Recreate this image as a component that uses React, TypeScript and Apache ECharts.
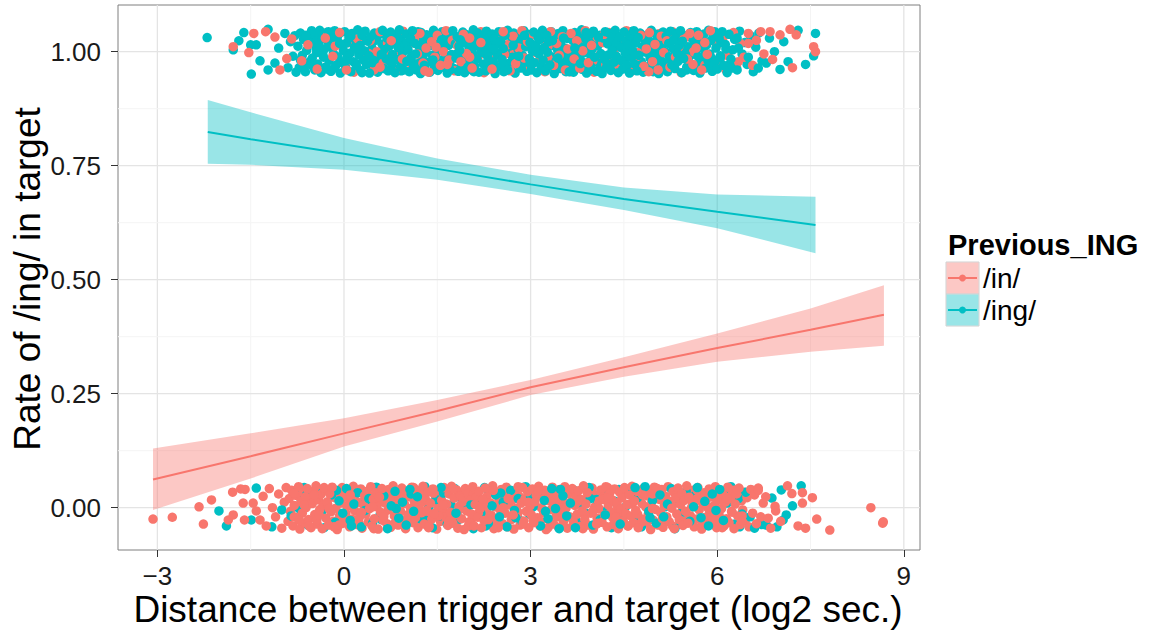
import React, { useEffect, useRef } from "react";
import * as echarts from "echarts";

const RED = "#F8766D";
const TEAL = "#00BFC4";
const RED_FILL = "rgba(248,118,109,0.4)";
const TEAL_FILL = "rgba(0,191,196,0.4)";
const FONT = "'Liberation Sans', Arial, Helvetica, sans-serif";

// panel limits (data units)
const X_MIN = -3.633;
const X_MAX = 9.26;
const Y_MIN = -0.0928;
const Y_MAX = 1.1024;

// breaks
const xTicks = [-3, 0, 3, 6, 9];
const xMinorBreaks = [-1.5, 1.5, 4.5, 7.5];
const yTicks = [0, 0.25, 0.5, 0.75, 1];
const yMinorBreaks = [0.125, 0.375, 0.625, 0.875];

const groupNames = ["/in/", "/ing/"];

// smoothed fit with confidence band, Previous_ING = /in/
const inFitX = [-3.07, -1.5, 0, 1.5, 3, 4.5, 6, 7.5, 8.68];
const inFit = [0.062, 0.113, 0.163, 0.212, 0.264, 0.308, 0.35, 0.39, 0.423];
const inLower = [-0.005, 0.064, 0.134, 0.189, 0.247, 0.287, 0.32, 0.342, 0.355];
const inUpper = [0.13, 0.163, 0.196, 0.236, 0.28, 0.33, 0.382, 0.437, 0.488];

// smoothed fit with confidence band, Previous_ING = /ing/
const ingFitX = [-2.19, -1.5, 0, 1.5, 3, 4.5, 6, 7.58];
const ingFit = [0.824, 0.808, 0.776, 0.743, 0.709, 0.677, 0.649, 0.62];
const ingLower = [0.754, 0.752, 0.741, 0.719, 0.688, 0.653, 0.613, 0.558];
const ingUpper = [0.894, 0.867, 0.811, 0.766, 0.73, 0.702, 0.687, 0.682];

// jittered observations as flat pairs: distance (log2 sec.), vertical jitter in thousandths
const ingAtOne = [
  -2.2,31, -1.78,4, -1.69,24, -1.61,42, -1.5,15, -1.49,-49, -1.41,15, -1.35,-20, -1.22,-40, -1.22,49, -1.11,-25, -1.05,8, -0.95,40, -0.9,-35, -0.86,22, -0.82,-10, -0.79,35, -0.77,-45,
  -0.74,12, -0.72,-35, -0.7,41, -0.67,-8, -0.65,27, -0.62,-44, -0.6,3, -0.57,35, -0.55,-22, -0.52,46, -0.51,-14,
  -0.49,20, -0.47,-40, -0.46,38, -0.44,-2, -0.42,-27, -0.4,14, -0.39,47, -0.37,-46, -0.35,29, -0.33,-12, -0.31,6, -0.29,-33, -0.28,42, -0.26,22,
  -0.24,-19, -0.22,35, -0.21,-43, -0.19,9, -0.17,-4, -0.15,46, -0.13,-30, -0.12,25, -0.1,-11, -0.08,39, -0.06,-47, -0.05,16, -0.03,-24, -0.01,3,
  0.01,44, 0.03,-36, 0.04,19, 0.06,-15, 0.08,31, 0.1,-3, 0.11,-44, 0.13,40, 0.15,-22, 0.17,10, 0.18,27, 0.2,-31, 0.22,48, 0.24,-7,
  0.26,14, 0.27,-41, 0.29,36, 0.31,-18, 0.33,2, 0.34,45, 0.36,-28, 0.38,23, 0.4,-9, 0.41,-47, 0.43,33, 0.45,8, 0.47,-35, 0.49,41,
  0.5,-13, 0.52,26, 0.54,-45, 0.55,-1, 0.57,38, 0.59,-24, 0.61,17, 0.62,47, 0.64,-37, 0.66,5, 0.68,-16, 0.69,30, 0.71,-42, 0.73,12,
  0.75,43, 0.77,-29, 0.78,-6, 0.8,21, 0.82,-46, 0.84,36, 0.85,-17, 0.87,9, 0.89,48, 0.91,-33, 0.92,25, 0.94,-3, 0.96,-40, 0.98,15,
  1.0,39, 1.01,-21, 1.03,4, 1.05,-44, 1.07,29, 1.08,-12, 1.1,46, 1.12,-32, 1.14,18, 1.15,-5, 1.17,35, 1.19,-26, 1.21,11, 1.23,-48,
  1.24,42, 1.26,-15, 1.28,24, 1.3,-38, 1.31,1, 1.33,37, 1.35,-23, 1.37,13, 1.38,-45, 1.4,31, 1.42,-8, 1.44,47, 1.45,-30, 1.47,20,
  1.49,-2, 1.51,-41, 1.52,34, 1.54,-19, 1.56,8, 1.58,44, 1.59,-34, 1.61,22, 1.63,-10, 1.65,40, 1.66,-47, 1.68,14, 1.7,-25, 1.72,28,
  1.73,-6, 1.75,46, 1.77,-37, 1.79,17, 1.8,-14, 1.82,33, 1.84,-43, 1.86,3, 1.87,26, 1.89,-28, 1.91,43, 1.93,-9, 1.94,-46, 1.96,19,
  1.98,37, 2.0,-20, 2.01,6, 2.03,-39, 2.05,30, 2.07,-4, 2.08,48, 2.1,-31, 2.12,13, 2.14,-16, 2.15,41, 2.17,-45, 2.19,24, 2.21,-1,
  2.22,35, 2.24,-27, 2.26,10, 2.28,-42, 2.29,45, 2.31,-11, 2.33,21, 2.35,-35, 2.36,2, 2.38,39, 2.4,-22, 2.42,28, 2.43,-48, 2.45,16,
  2.47,-7, 2.49,44, 2.5,-33, 2.52,23, 2.54,-17, 2.56,7, 2.57,-44, 2.59,36, 2.61,-3, 2.63,47, 2.64,-26, 2.66,12, 2.68,-38, 2.7,30,
  2.71,-12, 2.73,41, 2.75,-47, 2.77,18, 2.78,-21, 2.8,4, 2.82,33, 2.84,-36, 2.85,26, 2.87,-8, 2.89,46, 2.91,-30, 2.92,11, 2.94,-43,
  2.96,38, 2.98,-15, 2.99,20, 3.01,-40, 3.03,1, 3.05,43, 3.06,-24, 3.08,15, 3.1,-46, 3.12,32, 3.13,-5, 3.15,27, 3.17,-34, 3.19,47,
  3.2,-18, 3.22,9, 3.24,-42, 3.26,36, 3.27,-1, 3.29,22, 3.31,-29, 3.33,44, 3.34,-11, 3.36,14, 3.38,-48, 3.4,31, 3.41,-20, 3.43,5,
  3.45,40, 3.47,-37, 3.48,19, 3.5,-9, 3.52,46, 3.54,-25, 3.55,8, 3.57,-44, 3.59,29, 3.61,-14, 3.62,37, 3.64,-32, 3.66,2, 3.68,24,
  3.69,-45, 3.71,42, 3.73,-6, 3.75,16, 3.76,-28, 3.78,34, 3.8,-17, 3.82,48, 3.83,-39, 3.85,10, 3.87,-2, 3.89,27, 3.9,-47, 3.92,21,
  3.94,-21, 3.96,39, 3.97,-33, 3.99,6, 4.01,45, 4.03,-12, 4.04,25, 4.06,-43, 4.08,13, 4.1,-26, 4.11,36, 4.13,-4, 4.15,-48, 4.17,30,
  4.18,-16, 4.2,44, 4.22,-35, 4.24,17, 4.25,-7, 4.27,40, 4.29,-41, 4.31,3, 4.32,28, 4.34,-23, 4.36,47, 4.38,-10, 4.39,20, 4.41,-46,
  4.43,33, 4.45,-19, 4.46,9, 4.48,-38, 4.5,43, 4.52,-3, 4.53,24, 4.55,-30, 4.57,14, 4.59,-47, 4.6,37, 4.62,-13, 4.64,2, 4.66,46,
  4.67,-27, 4.69,19, 4.71,-42, 4.73,31, 4.74,-8, 4.76,41, 4.78,-22, 4.8,11, 4.81,-45, 4.83,27, 4.85,-1, 4.87,36, 4.88,-33, 4.9,15,
  4.92,-14, 4.94,47, 4.95,-39, 4.97,5, 4.99,22, 5.01,-25, 5.02,38, 5.04,-6, 5.06,-48, 5.08,29, 5.09,-18, 5.11,12, 5.13,43, 5.15,-32,
  5.16,0, 5.18,34, 5.2,-44, 5.22,18, 5.23,-11, 5.25,45, 5.27,-29, 5.29,7, 5.3,26, 5.32,-37, 5.34,40, 5.36,-4, 5.37,-21, 5.39,14,
  5.41,46, 5.43,-46, 5.44,23, 5.46,-15, 5.48,3, 5.5,35, 5.51,-34, 5.53,11, 5.55,-24, 5.57,42, 5.58,-7, 5.6,28, 5.62,-41, 5.64,17,
  5.65,-2, 5.67,44, 5.69,-28, 5.71,20, 5.72,-47, 5.74,32, 5.76,-12, 5.78,6, 5.79,39, 5.81,-36, 5.83,15, 5.85,-19, 5.86,47, 5.88,-5,
  5.9,25, 5.92,-43, 5.94,36, 5.96,-23, 5.98,8, 6.0,-38, 6.03,30, 6.05,-9, 6.08,44, 6.1,-30, 6.13,16, 6.16,-46, 6.19,38, 6.22,-16, 6.25,4, 6.28,27,
  6.32,-40, 6.36,45, 6.4,-5, 6.44,20, 6.48,-28, 6.53,35, 6.58,-44, 6.62,10, 6.67,41, 6.72,-20, 6.79,-25, 6.84,30, 6.92,0, 7.01,-39, 7.07,22, 7.14,-22, 7.3,47, 7.42,-28, 7.55,-9, 7.58,40,
  -0.63,-30, -0.45,8, -0.27,-38, -0.11,30, 0.05,-10, 0.19,-26, 0.32,25, 0.46,-24, 0.6,-6, 0.74,-22, 0.88,30, 1.02,20, 1.16,-40, 1.29,-30, 1.43,-18, 1.57,26, 1.71,-40, 1.85,12, 1.99,-34, 2.13,28,
  2.27,-4, 2.41,6, 2.55,-28, 2.69,20, 2.83,-16, 2.97,-32, 3.11,8, 3.25,26, 3.39,-36, 3.53,-2, 3.67,-22, 3.81,4, 3.95,-40, 4.09,32, 4.23,-26, 4.37,12, 4.51,-18, 4.65,28, 4.79,-36, 4.93,-4,
  5.07,20, 5.21,-24, 5.35,30, 5.49,-6, 5.63,-34, 5.77,24, 5.91,-14, 6.06,20, 6.2,-28, 6.34,8, 6.5,-12, 6.66,-36,
  -0.7,-18, -0.61,36, -0.52,-30, -0.43,24, -0.34,-6, -0.25,44, -0.16,-36, -0.07,18, 0.02,-20, 0.11,34, 0.2,6, 0.29,-46, 0.38,-2, 0.47,22, 0.56,-32, 0.65,40, 0.74,-12, 0.83,28, 0.92,-42, 1.01,8,
  1.1,-24, 1.19,44, 1.28,-6, 1.37,30, 1.46,-38, 1.55,16, 1.64,-20, 1.73,38, 1.82,-4, 1.91,-30, 2.0,22, 2.09,-44, 2.18,10, 2.27,34, 2.36,-24, 2.45,-2, 2.54,42, 2.63,-40, 2.72,14, 2.81,-10,
  2.9,36, 2.99,-26, 3.08,2, 3.17,40, 3.26,-36, 3.35,24, 3.44,-14, 3.53,30, 3.62,-44, 3.71,8, 3.8,-26, 3.89,42, 3.98,-8, 4.07,20, 4.16,-38, 4.25,32, 4.34,-2, 4.43,-28, 4.52,16, 4.61,44,
  4.7,-34, 4.79,4, 4.88,28, 4.97,-44, 5.06,14, 5.15,36, 5.24,-20, 5.33,-2, 5.42,26, 5.51,-40, 5.6,40, 5.69,-10, 5.78,22, 5.87,-30, 5.96,44, 6.05,-14, 6.14,6, 6.23,-36, 6.32,30
];

const inAtOne = [
  -1.78,11, -1.53,-2, -1.45,40, -1.26,44, -1.11,32, -1.03,-40, -0.92,-15, -0.84,28,
  -0.68,-20, -0.58,15, -0.43,-38, -0.3,30, -0.18,-10, -0.07,42, 0.02,-28, 0.09,20, 0.16,-45, 0.21,5, 0.28,35, 0.35,-15, 0.42,24, 0.48,-40, 0.53,0, 0.58,44, 0.63,-25, 0.7,19, 0.76,-8, 0.81,32, 0.86,-38, 0.9,2, 0.95,45, 0.99,-20,
  1.04,15, 1.09,-35, 1.13,28, 1.18,-5, 1.22,40, 1.27,-25, 1.32,8, 1.36,-45, 1.41,22, 1.46,-12, 1.5,36, 1.55,-30, 1.6,0, 1.64,46, 1.69,-18, 1.74,25, 1.78,-42, 1.83,12, 1.88,-22, 1.92,38, 1.97,-4,
  2.02,30, 2.06,-36, 2.11,18, 2.16,-10, 2.2,44, 2.25,-46, 2.3,5, 2.34,32, 2.39,-18, 2.44,24, 2.48,-30, 2.53,40, 2.58,-6, 2.62,15, 2.67,-42, 2.72,34, 2.76,-26, 2.81,8, 2.86,46, 2.9,-14, 2.95,22,
  3.0,-34, 3.04,38, 3.09,-2, 3.14,-20, 3.18,28, 3.23,-44, 3.28,12, 3.32,44, 3.37,-30, 3.42,18, 3.46,-8, 3.51,33, 3.56,-40, 3.6,6, 3.65,40, 3.7,-16, 3.74,24, 3.79,-36, 3.84,2, 3.88,46, 3.93,-24,
  3.98,14, 4.02,-45, 4.07,32, 4.12,-6, 4.16,20, 4.21,-28, 4.26,42, 4.3,-14, 4.35,8, 4.4,-38, 4.44,30, 4.49,-20, 4.54,46, 4.58,0, 4.63,-42, 4.68,22, 4.72,-10, 4.77,36, 4.82,-32, 4.86,6, 4.91,42,
  4.96,-22, 5.0,16, 5.05,-40, 5.1,34, 5.14,-2, 5.19,24, 5.24,-34, 5.28,44, 5.33,-12, 5.38,10, 5.42,-46, 5.47,30, 5.52,-16, 5.56,40, 5.61,-28, 5.66,8, 5.7,36, 5.75,-40, 5.8,20, 5.84,-6, 5.89,46,
  5.94,-30, 5.99,14, 6.04,-20, 6.09,30, 6.14,-40, 6.2,2, 6.26,42, 6.31,-34, 6.37,18, 6.43,-12, 6.5,40, 6.57,-30, 6.63,25, 6.7,44, 6.75,-5, 6.85,44, 6.89,-17, 7.01,37, 7.17,49, 7.21,-35, 7.27,37, 7.55,11, 7.58,0,
  -0.5,-30, -0.32,40, -0.14,12, 0.04,-40, 0.22,28, 0.4,-4, 0.58,-34, 0.76,24, 0.94,-16, 1.12,42, 1.3,-42, 1.48,10, 1.66,-28, 1.84,30, 2.02,-12, 2.2,20, 2.38,-38, 2.56,44, 2.74,-2, 2.92,-24,
  3.1,34, 3.28,-14, 3.46,4, 3.64,-44, 3.82,28, 4.0,-20, 4.18,38, 4.36,-32, 4.54,12, 4.72,-2, 4.9,-44, 5.08,40, 5.26,-16, 5.44,24, 5.62,0, 5.8,-30, 5.98,34, 6.16,-8, 6.34,-22, 6.5,18
];

const inAtZero = [
  -3.07,-25, -2.76,-21, -2.33,2, -2.26,-36, -2.13,17, -1.86,-27, -1.79,34, -1.78,-16, -1.66,41, -1.62,10, -1.6,-27, -1.59,40, -1.46,10, -1.41,-7, -1.35,-27, -1.3,25, -1.25,-40, -1.2,42, -1.15,0, -1.1,-20, -1.05,30, -1.0,-45, -0.96,12, -0.93,44, -0.9,-30,
  -0.88,20, -0.86,-8, -0.84,38, -0.82,-40, -0.8,5, -0.77,27, -0.75,-22, -0.73,46, -0.71,-47, -0.69,14, -0.67,-12, -0.65,33, -0.63,-33, -0.61,0,
  -0.59,42, -0.57,-26, -0.55,21, -0.53,-44, -0.51,9, -0.49,36, -0.47,-15, -0.45,48, -0.43,-36, -0.41,17, -0.39,-4, -0.37,29, -0.35,-46, -0.33,6,
  -0.31,40, -0.29,-23, -0.27,13, -0.25,-38, -0.23,31, -0.21,-9, -0.19,45, -0.17,-30, -0.15,22, -0.13,-1, -0.11,-48, -0.09,35, -0.07,-17, -0.05,10,
  -0.03,44, -0.01,-34, 0.01,25, 0.03,-12, 0.05,3, 0.07,39, 0.09,-42, 0.11,18, 0.13,-25, 0.15,47, 0.17,-6, 0.19,30, 0.21,-37, 0.23,12,
  0.25,-20, 0.27,41, 0.29,-45, 0.31,7, 0.33,26, 0.35,-14, 0.37,36, 0.39,-31, 0.41,-2, 0.43,46, 0.45,-40, 0.47,19, 0.49,-24, 0.51,33,
  0.53,2, 0.55,-47, 0.57,23, 0.59,-10, 0.61,42, 0.63,-28, 0.65,11, 0.67,37, 0.69,-35, 0.71,-5, 0.73,27, 0.75,-43, 0.77,15, 0.79,48,
  0.81,-18, 0.83,5, 0.85,32, 0.87,-38, 0.89,20, 0.91,-8, 0.93,43, 0.95,-27, 0.97,9, 0.99,-46, 1.01,35, 1.03,-15, 1.05,24, 1.07,-1,
  1.09,45, 1.11,-33, 1.13,14, 1.15,-22, 1.17,38, 1.19,-44, 1.21,4, 1.23,29, 1.25,-11, 1.27,47, 1.29,-36, 1.31,18, 1.33,-6, 1.35,34,
  1.37,-41, 1.39,10, 1.41,-25, 1.43,41, 1.45,-13, 1.47,25, 1.49,-47, 1.51,1, 1.53,37, 1.55,-30, 1.57,16, 1.59,-3, 1.61,44, 1.63,-20,
  1.65,8, 1.67,-39, 1.69,30, 1.71,-10, 1.73,47, 1.75,-34, 1.77,21, 1.79,-16, 1.81,39, 1.83,-45, 1.85,3, 1.87,26, 1.89,-24, 1.91,13,
  1.93,-48, 1.95,42, 1.97,-7, 1.99,31, 2.01,-31, 2.03,16, 2.05,-14, 2.07,46, 2.09,-40, 2.11,7, 2.13,24, 2.15,-21, 2.17,36, 2.19,-2,
  2.21,-44, 2.23,19, 2.25,-28, 2.27,43, 2.29,-9, 2.31,28, 2.33,-37, 2.35,11, 2.37,-17, 2.39,48, 2.41,-46, 2.43,2, 2.45,33, 2.47,-23,
  2.49,15, 2.51,-5, 2.53,40, 2.55,-35, 2.57,22, 2.59,-12, 2.61,45, 2.63,-42, 2.65,6, 2.67,30, 2.69,-26, 2.71,17, 2.73,-47, 2.75,37,
  2.77,-1, 2.79,-19, 2.81,26, 2.83,-38, 2.85,10, 2.87,44, 2.89,-29, 2.91,20, 2.93,-8, 2.95,35, 2.97,-44, 2.99,4, 3.01,-15, 3.03,41,
  3.05,-33, 3.07,13, 3.09,28, 3.11,-22, 3.13,47, 3.15,-40, 3.17,0, 3.19,23, 3.21,-11, 3.23,38, 3.25,-48, 3.27,16, 3.29,-27, 3.31,32,
  3.33,-4, 3.35,45, 3.37,-36, 3.39,9, 3.41,-18, 3.43,27, 3.45,-43, 3.47,40, 3.49,-9, 3.51,19, 3.53,-30, 3.55,46, 3.57,-1, 3.59,-45,
  3.61,30, 3.63,-20, 3.65,12, 3.67,42, 3.69,-34, 3.71,5, 3.73,24, 3.75,-14, 3.77,37, 3.79,-41, 3.81,18, 3.83,-7, 3.85,48, 3.87,-26,
  3.89,8, 3.91,33, 3.93,-38, 3.95,21, 3.97,-12, 3.99,43, 4.01,-47, 4.03,1, 4.05,28, 4.07,-23, 4.09,14, 4.11,-3, 4.13,39, 4.15,-32,
  4.17,24, 4.19,-16, 4.21,46, 4.23,-42, 4.25,6, 4.27,31, 4.29,-9, 4.31,17, 4.33,-37, 4.35,41, 4.37,-21, 4.39,11, 4.41,-46, 4.43,34,
  4.45,-2, 4.47,22, 4.49,-29, 4.51,44, 4.53,-13, 4.55,7, 4.57,-40, 4.59,28, 4.61,-18, 4.63,47, 4.65,-33, 4.67,15, 4.69,-6, 4.71,36,
  4.73,-44, 4.75,20, 4.77,-24, 4.79,9, 4.81,42, 4.83,-35, 4.85,2, 4.87,26, 4.89,-15, 4.91,38, 4.93,-48, 4.95,13, 4.97,-27, 4.99,45,
  5.01,-4, 5.03,30, 5.05,-38, 5.07,18, 5.09,-11, 5.11,40, 5.13,-43, 5.15,4, 5.17,25, 5.19,-20, 5.21,46, 5.23,-31, 5.25,12, 5.27,-1,
  5.29,35, 5.31,-46, 5.33,21, 5.35,-14, 5.37,43, 5.39,-26, 5.41,7, 5.43,31, 5.45,-39, 5.47,16, 5.49,-8, 5.51,48, 5.53,-34, 5.55,23,
  5.57,-18, 5.59,2, 5.61,38, 5.63,-42, 5.65,14, 5.67,-25, 5.69,44, 5.71,-5, 5.73,27, 5.75,-47, 5.77,10, 5.79,33, 5.81,-21, 5.83,19,
  5.85,-37, 5.87,41, 5.89,-10, 5.91,24, 5.93,-30, 5.95,5, 5.97,46, 5.99,-44, 6.01,16, 6.03,-15, 6.05,36, 6.07,-2, 6.09,29, 6.11,-40,
  6.13,12, 6.15,-24, 6.17,45, 6.19,-33, 6.21,20, 6.23,-8, 6.25,38, 6.27,-46, 6.29,8, 6.31,30, 6.33,-18, 6.35,43, 6.37,-37, 6.39,15,
  6.41,-5, 6.43,34, 6.45,-28, 6.48,22, 6.51,-42, 6.54,40, 6.57,-12, 6.6,28, 6.63,-35, 6.66,43, 6.66,38, 6.7,-20, 6.74,10, 6.78,24, 6.82,-23, 6.86,-45, 6.93,3, 6.94,-7, 7.02,-30, 7.13,48, 7.2,31, 7.3,-40, 7.37,33, 7.37,10, 7.42,-45, 7.53,22, 7.6,-25, 7.81,-49, 8.47,0, 8.66,-34, 8.67,-31,
  -0.8,-20, -0.62,24, -0.44,-28, -0.26,6, -0.08,-38, 0.1,28, 0.28,-10, 0.46,2, 0.64,-20, 0.82,30, 1.0,-28, 1.18,16, 1.36,-20, 1.54,8, 1.72,-28, 1.9,34, 2.08,-22, 2.26,4, 2.44,-34, 2.62,26,
  2.8,-10, 2.98,16, 3.16,-30, 3.34,12, 3.52,-20, 3.7,32, 3.88,-16, 4.06,-36, 4.24,22, 4.42,-12, 4.6,8, 4.78,-32, 4.96,30, 5.14,-24, 5.32,10, 5.5,-28, 5.68,20, 5.86,-2, 6.04,-30, 6.22,26, 6.4,-18,
  -0.8,32, -0.72,-28, -0.64,6, -0.56,-40, -0.48,28, -0.4,-16, -0.32,44, -0.24,-2, -0.16,-42, -0.08,20, 0.0,-24, 0.08,8, 0.16,36, 0.24,-32, 0.32,-8, 0.4,26, 0.48,-46, 0.56,12, 0.64,-14, 0.72,40,
  0.8,-36, 0.88,2, 0.96,28, 1.04,-24, 1.12,44, 1.2,-10, 1.28,14, 1.36,-44, 1.44,32, 1.52,-18, 1.6,6, 1.68,-30, 1.76,42, 1.84,-6, 1.92,22, 2.0,-40, 2.08,30, 2.16,-12, 2.24,10, 2.32,-26,
  2.4,38, 2.48,-44, 2.56,0, 2.64,20, 2.72,-16, 2.8,46, 2.88,-36, 2.96,12, 3.04,-28, 3.12,36, 3.2,-4, 3.28,-44, 3.36,22, 3.44,-20, 3.52,6, 3.6,40, 3.68,-26, 3.76,14, 3.84,-46, 3.92,30,
  4.0,-8, 4.08,-34, 4.16,18, 4.24,44, 4.32,-22, 4.4,2, 4.48,36, 4.56,-40, 4.64,10, 4.72,-14, 4.8,28, 4.88,-30, 4.96,-2, 5.04,42, 5.12,-24, 5.2,16, 5.28,-40, 5.36,32, 5.44,-6, 5.52,-32,
  5.6,12, 5.68,38, 5.76,-36, 5.84,2, 5.92,-20, 6.0,30, 6.08,-44, 6.16,20, 6.24,-10, 6.32,40, 6.4,-30
];

const ingAtZero = [
  -2.01,-7, -1.89,-40, -1.49,-27, -1.41,43, -1.16,-42, -1.0,-5, -0.69,19,
  -0.85,-18, -0.78,32, -0.72,-2, -0.64,44, -0.58,-38, -0.52,10, -0.44,-25, -0.38,40, -0.32,-44, -0.26,2, -0.2,28, -0.14,-32, -0.08,15, -0.02,-12,
  0.04,42, 0.1,-28, 0.16,8, 0.22,33, 0.28,-42, 0.34,-6, 0.4,20, 0.46,-34, 0.52,45, 0.58,-16, 0.64,26, 0.7,-46, 0.76,4, 0.82,36, 0.88,-23, 0.94,12,
  1.0,-38, 1.06,40, 1.12,-8, 1.18,24, 1.24,-30, 1.3,46, 1.36,0, 1.42,-44, 1.48,18, 1.54,-18, 1.6,32, 1.66,-36, 1.72,6, 1.78,42, 1.84,-26, 1.9,14, 1.96,-4,
  2.02,36, 2.08,-46, 2.14,22, 2.2,-12, 2.26,44, 2.32,-34, 2.38,4, 2.44,28, 2.5,-20, 2.56,12, 2.62,-42, 2.68,38, 2.74,-6, 2.8,20, 2.86,-30, 2.92,46, 2.98,-14,
  3.04,2, 3.1,32, 3.16,-40, 3.22,16, 3.28,-24, 3.34,42, 3.4,-2, 3.46,-46, 3.52,26, 3.58,-18, 3.64,10, 3.7,38, 3.76,-32, 3.82,6, 3.88,-12, 3.94,44,
  4.0,-38, 4.06,18, 4.12,-26, 4.18,30, 4.24,-4, 4.3,-44, 4.36,14, 4.42,40, 4.48,-16, 4.54,4, 4.6,34, 4.66,-28, 4.72,22, 4.78,-42, 4.84,46, 4.9,-8, 4.96,16,
  5.02,-34, 5.08,28, 5.14,-20, 5.2,8, 5.26,42, 5.32,-46, 5.38,20, 5.44,-10, 5.5,36, 5.56,-30, 5.62,2, 5.68,44, 5.74,-22, 5.8,14, 5.86,-40, 5.92,30, 5.98,-6,
  6.04,40, 6.1,-28, 6.16,10, 6.22,46, 6.28,-36, 6.34,20, 6.4,-14, 6.46,34, 6.53,-20, 6.6,-45, 6.72,-37, 6.79,-38, 6.88,21, 6.96,-42, 7.03,39, 7.06,-27, 7.11,-16, 7.21,4, 7.35,48,
  -0.6,28, -0.36,-10, -0.12,38, 0.12,-40, 0.36,14, 0.6,-26, 0.84,-2, 1.08,30, 1.32,-28, 1.56,44, 1.8,-12, 2.04,6, 2.28,-40, 2.52,32, 2.76,-22,
  3.0,24, 3.24,-8, 3.48,40, 3.72,-44, 3.96,20, 4.2,-16, 4.44,-36, 4.68,44, 4.92,-22, 5.16,2, 5.4,-36, 5.64,26, 5.88,-14, 6.12,34, 6.36,-42
];

type Pt = [number, number, number];

function toPoints(pairs: number[], outcome: number, group: number): Pt[] {
  const out: Pt[] = [];
  for (let i = 0; i + 1 < pairs.length; i += 2) {
    out.push([pairs[i], outcome + pairs[i + 1] / 1000, group]);
  }
  return out;
}

const observations: Pt[] = [
  ...toPoints(ingAtOne, 1, 1),
  ...toPoints(inAtOne, 1, 0),
  ...toPoints(inAtZero, 0, 0),
  ...toPoints(ingAtZero, 0, 1),
];

// interleave drawing order so both groups overlap one another
const STRIDE = 41;
const drawnPoints: Pt[] = [];
for (let r = 0; r < STRIDE; r++) {
  for (let i = r; i < observations.length; i += STRIDE) drawnPoints.push(observations[i]);
}

function ribbon(xs: number[], lo: number[], hi: number[], fill: string) {
  return {
    type: "custom",
    silent: true,
    z: 3,
    data: xs.map((x, i) => [x, lo[i], hi[i]]),
    encode: { x: 0, y: [1, 2] },
    renderItem: (params: any, api: any) => {
      if (params.dataIndex !== 0) return null;
      const pts: number[][] = [];
      for (let i = 0; i < xs.length; i++) pts.push(api.coord([xs[i], hi[i]]));
      for (let i = xs.length - 1; i >= 0; i--) pts.push(api.coord([xs[i], lo[i]]));
      return { type: "polygon", shape: { points: pts }, style: { fill } };
    },
  };
}

function fitLine(xs: number[], ys: number[], color: string) {
  return {
    type: "line",
    silent: true,
    z: 4,
    showSymbol: false,
    data: xs.map((x, i) => [x, ys[i]]),
    lineStyle: { color, width: 2 },
    itemStyle: { color },
  };
}

// panel grid lines: [x, y, kind] kind 0/1 vertical major/minor, 2/3 horizontal major/minor
const gridLineData = [
  ...xTicks.map((v) => [v, Y_MIN, 0]),
  ...xMinorBreaks.map((v) => [v, Y_MIN, 1]),
  ...yTicks.map((v) => [X_MIN, v, 2]),
  ...yMinorBreaks.map((v) => [X_MIN, v, 3]),
];

function legendItem(y: number, name: string, color: string, fill: string) {
  return [
    { type: "rect", shape: { x: 946, y, width: 33, height: 32 }, style: { fill: "#fff", stroke: "#d0d0d0", lineWidth: 1 } },
    { type: "rect", shape: { x: 946.5, y: y + 0.5, width: 32, height: 31 }, style: { fill } },
    { type: "line", shape: { x1: 948, y1: y + 16, x2: 977, y2: y + 16 }, style: { stroke: color, lineWidth: 2 } },
    { type: "circle", shape: { cx: 962.5, cy: y + 16, r: 3.5 }, style: { fill: color } },
    { type: "text", x: 983, y: y + 16, style: { text: name, fontSize: 28, lineHeight: 28, fontFamily: FONT, fill: "#000", align: "left", verticalAlign: "middle" } },
  ];
}

export default function App() {
  const ref = useRef<HTMLDivElement>(null);

  useEffect(() => {
    if (!ref.current) return;
    const chart = echarts.init(ref.current, undefined, { renderer: "svg" });
    const option: any = {
      animation: false,
      backgroundColor: "#ffffff",
      grid: {
        left: 118,
        right: 234,
        top: 5,
        bottom: 82,
        show: true,
        borderColor: "#7f7f7f",
        borderWidth: 1,
        backgroundColor: "transparent",
      },
      xAxis: {
        type: "value",
        min: X_MIN,
        max: X_MAX,
        axisLine: { show: false, onZero: false },
        splitLine: { show: false },
        axisTick: { show: true, customValues: xTicks, length: 7, lineStyle: { color: "#333", width: 1 } },
        axisLabel: {
          customValues: xTicks,
          fontSize: 26,
          lineHeight: 26,
          fontFamily: FONT,
          color: "#1a1a1a",
          margin: 13,
          formatter: (v: number) => (v < 0 ? "\u2212" + Math.abs(v) : String(v)),
        },
      },
      yAxis: {
        type: "value",
        min: Y_MIN,
        max: Y_MAX,
        axisLine: { show: false, onZero: false },
        splitLine: { show: false },
        axisTick: { show: true, customValues: yTicks, length: 7, lineStyle: { color: "#333", width: 1 } },
        axisLabel: {
          customValues: yTicks,
          fontSize: 26,
          fontFamily: FONT,
          color: "#1a1a1a",
          margin: 17,
          formatter: (v: number) => v.toFixed(2),
        },
      },
      series: [
        {
          type: "custom",
          silent: true,
          z: 1,
          data: gridLineData,
          encode: { x: 0, y: 1 },
          renderItem: (params: any, api: any) => {
            const kind = api.value(2);
            const v = kind < 2 ? api.value(0) : api.value(1);
            const a = kind < 2 ? api.coord([v, Y_MIN]) : api.coord([X_MIN, v]);
            const b = kind < 2 ? api.coord([v, Y_MAX]) : api.coord([X_MAX, v]);
            const major = kind === 0 || kind === 2;
            return {
              type: "line",
              shape: { x1: a[0], y1: a[1], x2: b[0], y2: b[1] },
              style: { stroke: major ? "#e4e4e4" : "#f4f4f4", lineWidth: major ? 1.3 : 1 },
            };
          },
        },
        {
          type: "scatter",
          name: "observations",
          silent: true,
          z: 2,
          symbolSize: 9.5,
          progressive: 0,
          large: false,
          data: drawnPoints,
          itemStyle: {
            opacity: 1,
            color: (p: any) => (p.value[2] === 0 ? RED : TEAL),
          },
        },
        ribbon(inFitX, inLower, inUpper, RED_FILL),
        ribbon(ingFitX, ingLower, ingUpper, TEAL_FILL),
        { ...fitLine(inFitX, inFit, RED), name: groupNames[0] },
        { ...fitLine(ingFitX, ingFit, TEAL), name: groupNames[1] },
      ],
      graphic: [
        {
          type: "text",
          x: 518,
          y: 609,
          style: {
            text: "Distance between trigger and target (log2 sec.)",
            fontSize: 37,
            lineHeight: 37,
            fontFamily: FONT,
            fill: "#000",
            align: "center",
            verticalAlign: "middle",
          },
        },
        {
          type: "text",
          x: 27,
          y: 279,
          rotation: Math.PI / 2,
          style: {
            text: "Rate of /ing/ in target",
            fontSize: 37,
            fontFamily: FONT,
            fill: "#000",
            align: "center",
            verticalAlign: "middle",
          },
        },
        {
          type: "text",
          x: 948,
          y: 245,
          style: {
            text: "Previous_ING",
            fontSize: 29,
            fontWeight: "bold",
            fontFamily: FONT,
            fill: "#000",
            align: "left",
            verticalAlign: "middle",
          },
        },
        ...legendItem(262, groupNames[0], RED, RED_FILL),
        ...legendItem(294, groupNames[1], TEAL, TEAL_FILL),
      ],
    };
    chart.setOption(option);
    return () => chart.dispose();
  }, []);

  return (
    <div
      ref={ref}
      style={{ position: "fixed", left: 0, top: 0, width: 1154, height: 632, background: "#fff" }}
    />
  );
}
